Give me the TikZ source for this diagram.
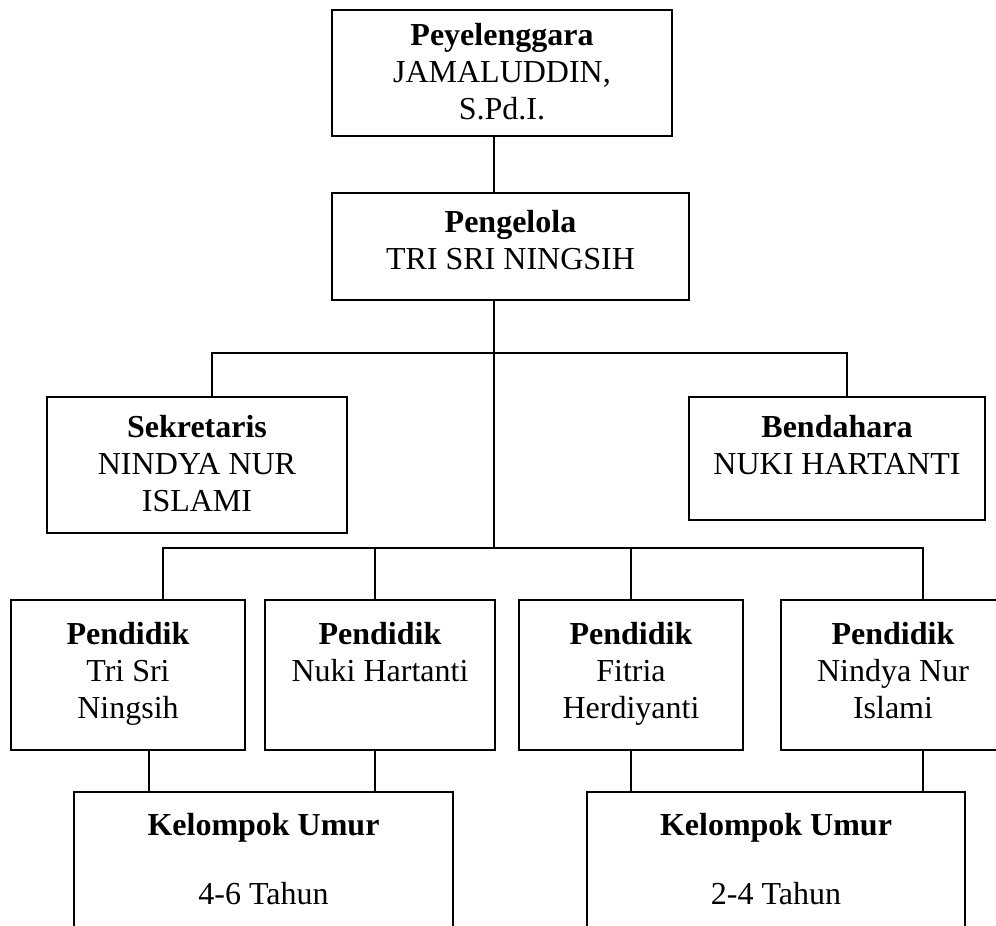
\documentclass[tikz,border=0pt]{standalone}
\usepackage{fontspec}
\setmainfont{Liberation Serif}
\usetikzlibrary{calc}
\definecolor{OrgInk}{gray}{0.0}
\newcommand{\OrgCell}[4]{\parbox[c][#2][t]{#1}{\centering\vspace*{#3}#4}}
\tikzset{
    org/chart/.style={
        x=0.5pt, y=-0.5pt,
        draw=OrgInk,
        text=OrgInk,
        line width=0.9pt,
        font=\fontsize{16pt}{18.5pt}\selectfont
    },
    org/box/.style={draw=OrgInk, line width=0.9pt, inner sep=0pt, outer sep=0pt, anchor=north west},
    org/link/.style={draw=OrgInk, line width=0.9pt}
}

\begin{document}
\begin{tikzpicture}[org/chart]
    \useasboundingbox (0,0) rectangle (996,926);
    \clip (0,0) rectangle (996,926);
    % top of the chart
    \node[org/box] (peyel) at (332,10)
        {\OrgCell{170pt}{63pt}{6.5pt}{\textbf{Peyelenggara}\\JAMALUDDIN,\\S.Pd.I.}};
    \node[org/box] (pengel) at (332,193)
        {\OrgCell{178.5pt}{53.5pt}{8.5pt}{\textbf{Pengelola}\\TRI SRI NINGSIH}};
    \node[org/box] (sekre) at (47,397)
        {\OrgCell{150pt}{68pt}{9pt}{\textbf{Sekretaris}\\NINDYA NUR\\ISLAMI}};
    \node[org/box] (benda) at (689,397)
        {\OrgCell{148pt}{61.5pt}{9pt}{\textbf{Bendahara}\\NUKI HARTANTI}};
    % teachers
    \node[org/box] (pend1) at (11,600)
        {\OrgCell{117pt}{75pt}{11pt}{\textbf{Pendidik}\\Tri Sri\\Ningsih}};
    \node[org/box] (pend2) at (265,600)
        {\OrgCell{115pt}{75pt}{11pt}{\textbf{Pendidik}\\Nuki Hartanti}};
    \node[org/box] (pend3) at (519,600)
        {\OrgCell{112pt}{75pt}{11pt}{\textbf{Pendidik}\\Fitria\\Herdiyanti}};
    \node[org/box] (pend4) at (781,600)
        {\OrgCell{112pt}{75pt}{11pt}{\textbf{Pendidik}\\Nindya Nur\\Islami}};
    % age groups
    \node[org/box] (kel1) at (74,792)
        {\OrgCell{189.5pt}{90pt}{10.5pt}{\textbf{Kelompok Umur}\\[16pt]4-6 Tahun}};
    \node[org/box] (kel2) at (587,792)
        {\OrgCell{189pt}{90pt}{10.5pt}{\textbf{Kelompok Umur}\\[16pt]2-4 Tahun}};
    % junctions
    \coordinate (trunk) at (494,0);
    \coordinate (staffbar) at (0,353);
    \coordinate (teachbar) at (0,548);
    \coordinate (sekretap) at (212,353);
    \coordinate (bendatap) at (847,353);
    \draw[org/link] (trunk |- peyel.south) -- (trunk |- pengel.north);
    \draw[org/link] (trunk |- pengel.south) -- (trunk |- teachbar);
    \draw[org/link] (sekretap |- sekre.north) -- (sekretap) -- (bendatap) -- (bendatap |- benda.north);
    \draw[org/link] (163,548 |- pend1.north) -- (163,548) -- (923,548) -- (923,548 |- pend4.north);
    \foreach \tapx in {375,631} {
        \draw[org/link] (\tapx,548) -- (\tapx,600);
    }
    \draw[org/link] (149,750 |- pend1.south) -- (149,750 |- kel1.north);
    \draw[org/link] (375,750 |- pend2.south) -- (375,750 |- kel1.north);
    \draw[org/link] (631,750 |- pend3.south) -- (631,750 |- kel2.north);
    \draw[org/link] (923,750 |- pend4.south) -- (923,750 |- kel2.north);
\end{tikzpicture}
\end{document}
